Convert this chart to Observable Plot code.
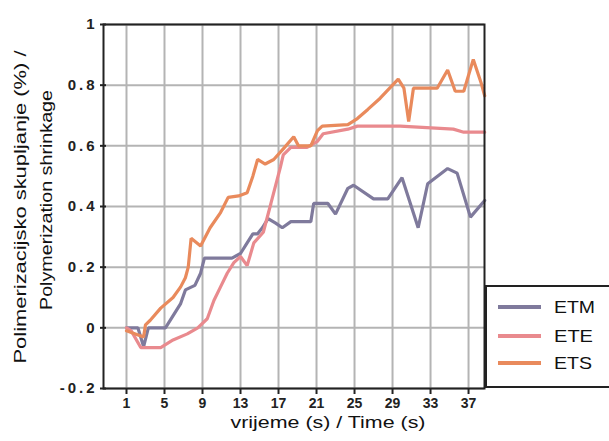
<!DOCTYPE html>
<html>
<head>
<meta charset="utf-8">
<script src="https://cdn.jsdelivr.net/npm/d3@7"></script>
<script src="https://cdn.jsdelivr.net/npm/@observablehq/plot@0.6"></script>
<style>
  html, body { margin: 0; padding: 0; background: #fff; }
  #chart svg { display: block; }
</style>
</head>
<body>
<div id="chart"></div>
<script>
// Series names and colours
const seriesNames = ["ETM", "ETE", "ETS"];
const seriesColors = ["#7f7a9c", "#e98a8e", "#e98a5c"];

// Time (s) and shrinkage (%)
const etmTime = [1, 2.2, 2.8, 3.3, 5.1, 6.7, 7.2, 8.2, 8.8, 9.2, 12.1, 13, 13.7, 14.3, 14.8, 15.3, 15.9, 16.7, 17.4, 18.3, 20.4, 20.7, 22.2, 23, 24.3, 24.9, 27, 28.5, 30, 31.7, 32.7, 34.8, 35.8, 37.2, 38.7];
const etmValue = [0, 0, -0.062, 0, 0, 0.08, 0.125, 0.14, 0.18, 0.23, 0.23, 0.245, 0.28, 0.31, 0.31, 0.33, 0.36, 0.345, 0.33, 0.35, 0.35, 0.41, 0.41, 0.375, 0.46, 0.47, 0.425, 0.425, 0.495, 0.33, 0.475, 0.525, 0.51, 0.365, 0.42];

const eteTime = [1, 1.5, 2.5, 4.6, 5.9, 7.4, 8.5, 9.5, 10.2, 10.9, 11.6, 12.3, 13, 13.7, 14.4, 15.4, 16.2, 17.2, 17.5, 18.3, 20, 21.1, 21.7, 24.3, 25.3, 29.8, 35.4, 36.5, 38.7];
const eteValue = [0, -0.01, -0.065, -0.065, -0.04, -0.02, 0, 0.03, 0.09, 0.135, 0.18, 0.215, 0.235, 0.205, 0.28, 0.315, 0.41, 0.53, 0.57, 0.595, 0.595, 0.615, 0.64, 0.655, 0.665, 0.665, 0.655, 0.645, 0.645];

const etsTime = [1, 2.8, 3.0, 3.5, 4.6, 5.9, 6.7, 7.2, 7.5, 7.8, 8.8, 9.8, 10.9, 11.7, 12.8, 13.7, 14.3, 14.8, 15.6, 16.5, 17.5, 18.6, 19.1, 20.4, 21.1, 21.6, 24.3, 25.3, 26.4, 27.7, 29.6, 30.2, 30.7, 31.2, 33.7, 34.8, 35.6, 36.5, 37.5, 38.3, 38.7];
const etsValue = [-0.01, -0.03, 0.01, 0.025, 0.065, 0.1, 0.135, 0.165, 0.2, 0.295, 0.27, 0.33, 0.38, 0.43, 0.435, 0.445, 0.5, 0.555, 0.54, 0.555, 0.59, 0.63, 0.6, 0.6, 0.65, 0.665, 0.67, 0.69, 0.72, 0.757, 0.82, 0.79, 0.68, 0.79, 0.79, 0.85, 0.78, 0.78, 0.885, 0.81, 0.765];

// Tick labels
const xTicks = [1, 5, 9, 13, 17, 21, 25, 29, 33, 37];
const yTicks = [-0.2, 0, 0.2, 0.4, 0.6, 0.8, 1];
const yTickLabels = ["-0.2", "0", "0.2", "0.4", "0.6", "0.8", "1"];

const xTitle = "vrijeme (s) / Time (s)";
const yTitle1 = "Polimerizacijsko skupljanje (%) /";
const yTitle2 = "Polymerization shrinkage";

const seriesData = [
  etmTime.map((t, i) => ({series: "ETM", t, v: etmValue[i]})),
  eteTime.map((t, i) => ({series: "ETE", t, v: eteValue[i]})),
  etsTime.map((t, i) => ({series: "ETS", t, v: etsValue[i]}))
];

const W = 609, H = 441;
const mL = 103, mR = 125, mT = 24, mB = 53;
const font = "Liberation Sans, Arial, sans-serif";

const plot = Plot.plot({
  width: W,
  height: H,
  marginLeft: mL,
  marginRight: mR,
  marginTop: mT,
  marginBottom: mB,
  style: {fontFamily: font, background: "#fff", overflow: "visible"},
  x: {domain: [-1.42, 38.68], ticks: xTicks, tickSize: 6, label: null, tickFormat: d => String(d)},
  y: {domain: [-0.2, 1], ticks: yTicks, tickSize: 6, label: null, tickFormat: d => yTickLabels[yTicks.indexOf(d)] ?? d},
  marks: [
    Plot.gridX(xTicks, {stroke: "#b4b4b4", strokeOpacity: 1, strokeWidth: 2}),
    Plot.gridY(yTicks, {stroke: "#b4b4b4", strokeOpacity: 1, strokeWidth: 2}),
    ...seriesData.map((d, i) => Plot.line(d, {x: "t", y: "v", stroke: seriesColors[i], strokeWidth: 3.2, strokeLinejoin: "miter"})),
    Plot.frame({stroke: "#222", strokeWidth: 2}),
    Plot.axisX(xTicks, {tickSize: 6, tickPadding: 4, fontSize: 14, fontWeight: "bold", fill: "#222", stroke: "#222", strokeWidth: 2, tickFormat: d => String(d)}),
    Plot.axisY(yTicks, {tickSize: 6, tickPadding: 3, fontSize: 15, fontWeight: "bold", fill: "#222", stroke: "#222", strokeWidth: 2, dx: 3, tickFormat: d => yTickLabels[yTicks.indexOf(d)]})
  ]
});

document.getElementById("chart").appendChild(plot);

const svg = d3.select(plot);
// widen y tick labels like the original's wide bitmap font
svg.selectAll("g[aria-label='y-axis tick label'] text").attr("letter-spacing", 3);

// Axis titles
svg.append("text")
  .attr("x", 328).attr("y", 428)
  .attr("text-anchor", "middle")
  .attr("textLength", 195).attr("lengthAdjust", "spacingAndGlyphs")
  .attr("font-family", font).attr("font-size", 17).attr("fill", "#111")
  .text(xTitle);

const gy = svg.append("g").attr("transform", "rotate(-90)");
gy.append("text").attr("x", -207).attr("y", 26).attr("text-anchor", "middle")
  .attr("textLength", 313).attr("lengthAdjust", "spacingAndGlyphs")
  .attr("font-family", font).attr("font-size", 17).attr("fill", "#111").text(yTitle1);
gy.append("text").attr("x", -200).attr("y", 52).attr("text-anchor", "middle")
  .attr("textLength", 220).attr("lengthAdjust", "spacingAndGlyphs")
  .attr("font-family", font).attr("font-size", 17).attr("fill", "#111").text(yTitle2);

// Legend box
const lg = svg.append("g");
lg.append("rect").attr("x", 486).attr("y", 286).attr("width", 130).attr("height", 101)
  .attr("fill", "#fff").attr("stroke", "#222").attr("stroke-width", 2);
const legY = [307, 336, 363];
const legLen = [41, 39, 38];
seriesNames.forEach((name, i) => {
  lg.append("line").attr("x1", 498).attr("x2", 541).attr("y1", legY[i]).attr("y2", legY[i])
    .attr("stroke", seriesColors[i]).attr("stroke-width", 4);
  lg.append("text").attr("x", 554).attr("y", legY[i]).attr("dy", "0.35em")
    .attr("text-anchor", "start")
    .attr("textLength", legLen[i]).attr("lengthAdjust", "spacingAndGlyphs")
    .attr("font-family", font).attr("font-size", 17).attr("fill", "#111")
    .text(name);
});
</script>
</body>
</html>
